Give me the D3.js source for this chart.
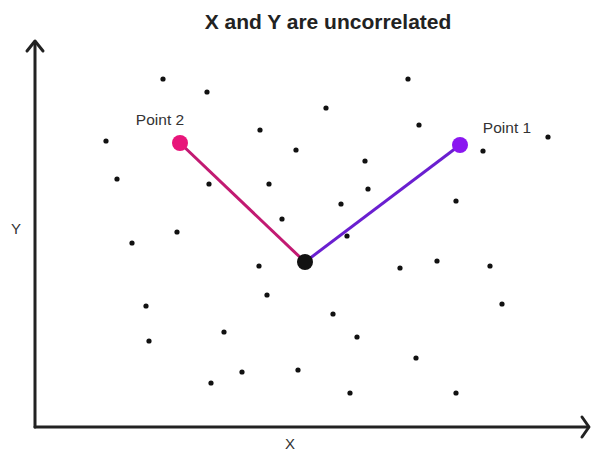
<!DOCTYPE html>
<html><head><meta charset="utf-8">
<script src="https://cdn.jsdelivr.net/npm/d3@7"></script>
<style>body{margin:0;background:#fff}svg{display:block}</style>
</head><body>
<script>
// data values (x = units right of the Y axis, y = units above the X axis)
const dotX = [128,172,71,225,261,82,174,234,247,142,97,373,291,384,513,448,330,333,306,421,312,224,232,111,114,189,207,176,263,365,402,455,467,298,322,381,315,421];
const dotY = [348,335,286,297,277,248,243,243,208,195,184,348,319,302,290,276,266,238,223,226,191,161,132,121,86,95,55,44,57,159,166,161,123,113,90,69,34,34];
const highlightNames = ["Point 2","Center","Point 1"];
const highlightX = [145,270,425];
const highlightY = [284,165,282];
const highlightColors = ["#e8157a","#111111","#8a17f0"];
const lineColors = ["#c21a72","#6a1fd0"];
const titleText = "X and Y are uncorrelated";
const xLabel = "X", yLabel = "Y";

const W = 592, H = 453;
const x0 = 35, yAxisY = 427;
const svg = d3.select("body").append("svg").attr("width", W).attr("height", H);
const x = d3.scaleLinear().domain([0, 555]).range([x0, x0 + 555]);
const y = d3.scaleLinear().domain([0, 387]).range([yAxisY, yAxisY - 387]);

svg.append("text").attr("x", 328).attr("y", 29).attr("text-anchor", "middle")
  .attr("font-family", "Liberation Sans, Arial, sans-serif").attr("font-weight", "bold")
  .attr("font-size", 21).attr("fill", "#222").text(titleText);

// axes
const ax = svg.append("g").attr("stroke", "#222").attr("stroke-width", 3).attr("fill", "none")
  .attr("stroke-linecap", "round").attr("stroke-linejoin", "round");
ax.append("path").attr("d", `M${x(0)},${y(0)}H${x(553)}`);
ax.append("path").attr("d", `M${x(0)},${y(0)}V${y(385)}`);
ax.append("path").attr("d", `M${x(547)},${y(10)}L${x(554)},${y(0)}L${x(547)},${y(-10)}`);
ax.append("path").attr("d", `M${x(-8)},${y(376)}L${x(0)},${y(386)}L${x(8)},${y(376)}`);

svg.append("text").attr("x", x(255)).attr("y", 449).attr("text-anchor", "middle")
  .attr("font-family", "Liberation Sans, Arial, sans-serif").attr("font-size", 15).attr("fill", "#333").text(xLabel);
svg.append("text").attr("x", 16).attr("y", 234).attr("text-anchor", "middle")
  .attr("font-family", "Liberation Sans, Arial, sans-serif").attr("font-size", 15).attr("fill", "#333").text(yLabel);

// dots
svg.append("g").selectAll("circle").data(dotX.map((d, i) => [d, dotY[i]])).join("circle")
  .attr("cx", d => x(d[0])).attr("cy", d => y(d[1])).attr("r", 2.6).attr("fill", "#111");

// connecting lines
[[1, 0], [1, 2]].forEach(([a, b], i) => {
  svg.append("line").attr("x1", x(highlightX[a])).attr("y1", y(highlightY[a]))
    .attr("x2", x(highlightX[b])).attr("y2", y(highlightY[b]))
    .attr("stroke", lineColors[i]).attr("stroke-width", 3);
});

svg.append("g").selectAll("circle").data(highlightX.map((d, i) => i)).join("circle")
  .attr("cx", i => x(highlightX[i])).attr("cy", i => y(highlightY[i])).attr("r", 8)
  .attr("fill", i => highlightColors[i]);

const labelPos = [[160, 125], null, [507, 133]];
highlightNames.forEach((n, i) => {
  if (!labelPos[i]) return;
  svg.append("text").attr("x", labelPos[i][0]).attr("y", labelPos[i][1]).attr("text-anchor", "middle")
    .attr("font-family", "Liberation Sans, Arial, sans-serif").attr("font-size", 15.5).attr("fill", "#333").text(n);
});
</script>
</body></html>
